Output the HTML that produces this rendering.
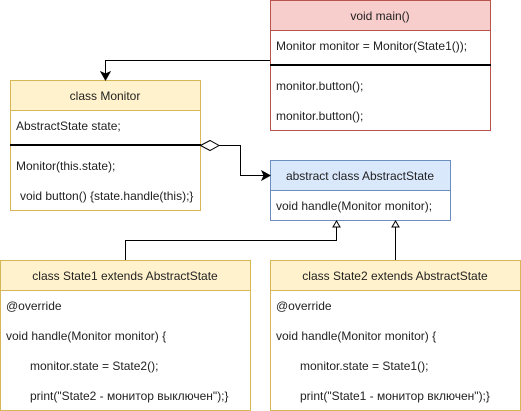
<!DOCTYPE html>
<html><head><meta charset="utf-8"><style>
html,body{margin:0;padding:0;background:#fff;}
svg{display:block;font-family:"Liberation Sans",Arial,sans-serif;font-size:12px;}
</style></head><body>
<svg width="521" height="411" viewBox="0 0 521 411" xmlns="http://www.w3.org/2000/svg">
<!-- main -->
<rect x="270.5" y="0.5" width="220" height="130" fill="#fff" stroke="#b85450"/>
<rect x="270.5" y="0.5" width="220" height="30" fill="#f8cecc" stroke="#b85450"/>
<line x1="270" y1="65" x2="491" y2="65" stroke="#000" stroke-width="2"/>
<text x="380" y="20" text-anchor="middle" fill="#222">void main()</text>
<text x="276" y="50" fill="#222">Monitor monitor = Monitor(State1());</text>
<text x="276" y="90" fill="#222">monitor.button();</text>
<text x="276" y="120" fill="#222">monitor.button();</text>
<!-- Monitor -->
<rect x="10.5" y="80.5" width="190" height="130" fill="#fff" stroke="#d6b656"/>
<rect x="10.5" y="80.5" width="190" height="30" fill="#fff2cc" stroke="#d6b656"/>
<line x1="10" y1="145" x2="201" y2="145" stroke="#000" stroke-width="2"/>
<text x="105" y="100" text-anchor="middle" fill="#222">class Monitor</text>
<text x="16" y="130" fill="#222">AbstractState state;</text>
<text x="16" y="170" fill="#222">Monitor(this.state);</text>
<text x="20" y="200" fill="#222">void button() {state.handle(this);}</text>
<!-- AbstractState -->
<rect x="270.5" y="160.5" width="180" height="60" fill="#fff" stroke="#6c8ebf"/>
<rect x="270.5" y="160.5" width="180" height="30" fill="#dae8fc" stroke="#6c8ebf"/>
<text x="360" y="180" text-anchor="middle" fill="#222">abstract class AbstractState</text>
<text x="276" y="210" fill="#222">void handle(Monitor monitor);</text>
<!-- State1 -->
<rect x="0.5" y="260.5" width="250" height="150" fill="#fff" stroke="#d6b656"/>
<rect x="0.5" y="260.5" width="250" height="30" fill="#fff2cc" stroke="#d6b656"/>
<text x="125" y="280" text-anchor="middle" fill="#222">class State1 extends AbstractState</text>
<text x="6" y="310" fill="#222">@override</text>
<text x="6" y="340" fill="#222">void handle(Monitor monitor) {</text>
<text x="30" y="370" fill="#222">monitor.state = State2();</text>
<text x="30" y="400" fill="#222">print("State2 - монитор выключен");}</text>
<!-- State2 -->
<rect x="270.5" y="260.5" width="250" height="150" fill="#fff" stroke="#d6b656"/>
<rect x="270.5" y="260.5" width="250" height="30" fill="#fff2cc" stroke="#d6b656"/>
<text x="395" y="280" text-anchor="middle" fill="#222">class State2 extends AbstractState</text>
<text x="276" y="310" fill="#222">@override</text>
<text x="276" y="340" fill="#222">void handle(Monitor monitor) {</text>
<text x="300" y="370" fill="#222">monitor.state = State1();</text>
<text x="300" y="400" fill="#222">print("State1 - монитор включен");}</text>
<!-- connectors -->
<polyline points="270,60.5 105.5,60.5 105.5,74" fill="none" stroke="#000"/>
<polygon points="101,72 105.5,80 110,72 105.5,74" fill="#000" stroke="#000"/>
<polygon points="200.5,145.5 210,140.5 219,145.5 210,150.5" fill="#fff" stroke="#000"/>
<polyline points="219,145.5 240.5,145.5 240.5,175.5 264,175.5" fill="none" stroke="#000"/>
<polygon points="262,171 270,175.5 262,180 264,175.5" fill="#000" stroke="#000"/>
<polyline points="125.5,260 125.5,240.5 336.5,240.5 336.5,227" fill="none" stroke="#000"/>
<polygon points="333,227 336.5,221 340,227" fill="#fff" stroke="#000"/>
<line x1="395.5" y1="260" x2="395.5" y2="227" stroke="#000"/>
<polygon points="392,227 395.5,221 399,227" fill="#fff" stroke="#000"/>
</svg>
</body></html>
